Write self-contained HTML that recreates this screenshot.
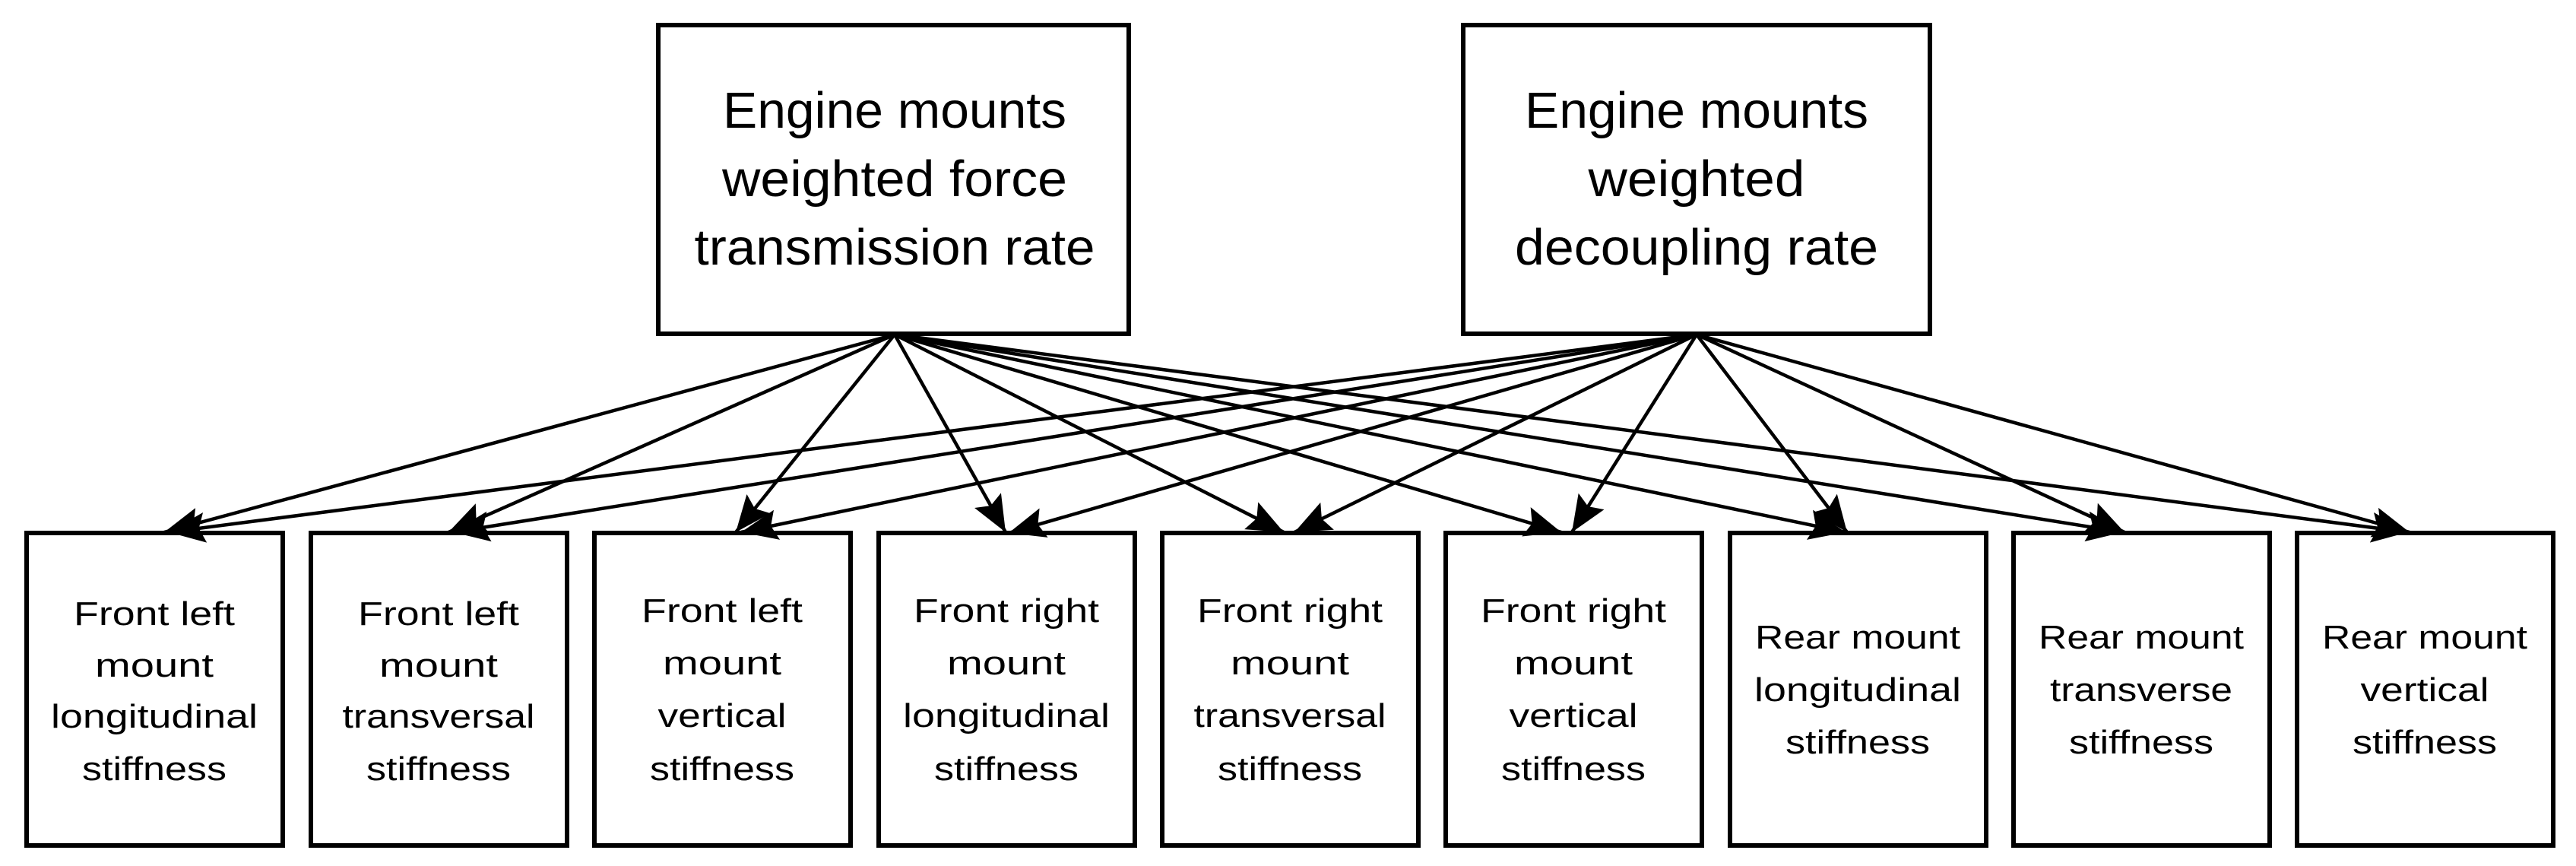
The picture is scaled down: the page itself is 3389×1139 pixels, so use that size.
<!DOCTYPE html>
<html><head><meta charset="utf-8"><style>html,body{margin:0;padding:0;background:#fff;}svg{display:block}</style></head>
<body>
<svg width="3389" height="1139" viewBox="0 0 3389 1139" xmlns="http://www.w3.org/2000/svg" font-family="'Liberation Sans', sans-serif">
<defs>
<marker id="a" markerUnits="userSpaceOnUse" markerWidth="52" markerHeight="44" refX="48" refY="20" orient="auto">
<path d="M0,0 L48,20 L0,40 L8,20 Z" fill="#000"/>
</marker>
</defs>
<rect width="3389" height="1139" fill="#fff"/>
<g fill="none" stroke="#000" stroke-width="6">
<rect x="866" y="33" width="619" height="406"/>
<rect x="1925" y="33" width="614" height="406"/>
<rect x="35" y="701" width="337" height="411"/>
<rect x="409" y="701" width="337" height="411"/>
<rect x="782" y="701" width="337" height="411"/>
<rect x="1156" y="701" width="337" height="411"/>
<rect x="1529" y="701" width="337" height="411"/>
<rect x="1902" y="701" width="337" height="411"/>
<rect x="2276" y="701" width="337" height="411"/>
<rect x="2649" y="701" width="337" height="411"/>
<rect x="3022" y="701" width="337" height="411"/>
</g>
<g stroke="#000" stroke-width="4.5" marker-end="url(#a)">
<line x1="1177" y1="440" x2="216" y2="700"/>
<line x1="1177" y1="440" x2="590" y2="700"/>
<line x1="1177" y1="440" x2="968" y2="700"/>
<line x1="1177" y1="440" x2="1323" y2="700"/>
<line x1="1177" y1="440" x2="1689" y2="700"/>
<line x1="1177" y1="440" x2="2054" y2="700"/>
<line x1="1177" y1="440" x2="2428" y2="700"/>
<line x1="1177" y1="440" x2="2793" y2="700"/>
<line x1="1177" y1="440" x2="3168" y2="700"/>
<line x1="2232" y1="440" x2="222" y2="700"/>
<line x1="2232" y1="440" x2="596" y2="700"/>
<line x1="2232" y1="440" x2="975" y2="700"/>
<line x1="2232" y1="440" x2="1327" y2="701"/>
<line x1="2232" y1="440" x2="1703" y2="700"/>
<line x1="2232" y1="440" x2="2068" y2="700"/>
<line x1="2232" y1="440" x2="2430" y2="700"/>
<line x1="2232" y1="440" x2="2795" y2="700"/>
<line x1="2232" y1="440" x2="3170" y2="700"/>
</g>
<g font-size="67" text-anchor="middle" fill="#000">
<text x="1177" y="168" textLength="452" lengthAdjust="spacingAndGlyphs">Engine mounts</text>
<text x="1177" y="258" textLength="454" lengthAdjust="spacingAndGlyphs">weighted force</text>
<text x="1177" y="348" textLength="527" lengthAdjust="spacingAndGlyphs">transmission rate</text>
<text x="2232" y="168" textLength="452" lengthAdjust="spacingAndGlyphs">Engine mounts</text>
<text x="2232" y="258" textLength="285" lengthAdjust="spacingAndGlyphs">weighted</text>
<text x="2232" y="348" textLength="478" lengthAdjust="spacingAndGlyphs">decoupling rate</text>
</g>
<g font-size="44" text-anchor="middle" fill="#000">
<text x="203" y="822" textLength="212" lengthAdjust="spacingAndGlyphs">Front left</text>
<text x="203" y="890" textLength="156" lengthAdjust="spacingAndGlyphs">mount</text>
<text x="203" y="957" textLength="272" lengthAdjust="spacingAndGlyphs">longitudinal</text>
<text x="203" y="1026" textLength="190" lengthAdjust="spacingAndGlyphs">stiffness</text>

<text x="577" y="822" textLength="212" lengthAdjust="spacingAndGlyphs">Front left</text>
<text x="577" y="890" textLength="156" lengthAdjust="spacingAndGlyphs">mount</text>
<text x="577" y="957" textLength="253" lengthAdjust="spacingAndGlyphs">transversal</text>
<text x="577" y="1026" textLength="190" lengthAdjust="spacingAndGlyphs">stiffness</text>

<text x="950" y="818" textLength="212" lengthAdjust="spacingAndGlyphs">Front left</text>
<text x="950" y="887" textLength="156" lengthAdjust="spacingAndGlyphs">mount</text>
<text x="950" y="956" textLength="169" lengthAdjust="spacingAndGlyphs">vertical</text>
<text x="950" y="1026" textLength="190" lengthAdjust="spacingAndGlyphs">stiffness</text>

<text x="1324" y="818" textLength="244" lengthAdjust="spacingAndGlyphs">Front right</text>
<text x="1324" y="887" textLength="156" lengthAdjust="spacingAndGlyphs">mount</text>
<text x="1324" y="956" textLength="272" lengthAdjust="spacingAndGlyphs">longitudinal</text>
<text x="1324" y="1026" textLength="190" lengthAdjust="spacingAndGlyphs">stiffness</text>

<text x="1697" y="818" textLength="244" lengthAdjust="spacingAndGlyphs">Front right</text>
<text x="1697" y="887" textLength="156" lengthAdjust="spacingAndGlyphs">mount</text>
<text x="1697" y="956" textLength="253" lengthAdjust="spacingAndGlyphs">transversal</text>
<text x="1697" y="1026" textLength="190" lengthAdjust="spacingAndGlyphs">stiffness</text>

<text x="2070" y="818" textLength="244" lengthAdjust="spacingAndGlyphs">Front right</text>
<text x="2070" y="887" textLength="156" lengthAdjust="spacingAndGlyphs">mount</text>
<text x="2070" y="956" textLength="169" lengthAdjust="spacingAndGlyphs">vertical</text>
<text x="2070" y="1026" textLength="190" lengthAdjust="spacingAndGlyphs">stiffness</text>

<text x="2444" y="853" textLength="270" lengthAdjust="spacingAndGlyphs">Rear mount</text>
<text x="2444" y="922" textLength="272" lengthAdjust="spacingAndGlyphs">longitudinal</text>
<text x="2444" y="991" textLength="190" lengthAdjust="spacingAndGlyphs">stiffness</text>

<text x="2817" y="853" textLength="270" lengthAdjust="spacingAndGlyphs">Rear mount</text>
<text x="2817" y="922" textLength="240" lengthAdjust="spacingAndGlyphs">transverse</text>
<text x="2817" y="991" textLength="190" lengthAdjust="spacingAndGlyphs">stiffness</text>

<text x="3190" y="853" textLength="270" lengthAdjust="spacingAndGlyphs">Rear mount</text>
<text x="3190" y="922" textLength="169" lengthAdjust="spacingAndGlyphs">vertical</text>
<text x="3190" y="991" textLength="190" lengthAdjust="spacingAndGlyphs">stiffness</text>
</g>
</svg>
</body></html>
